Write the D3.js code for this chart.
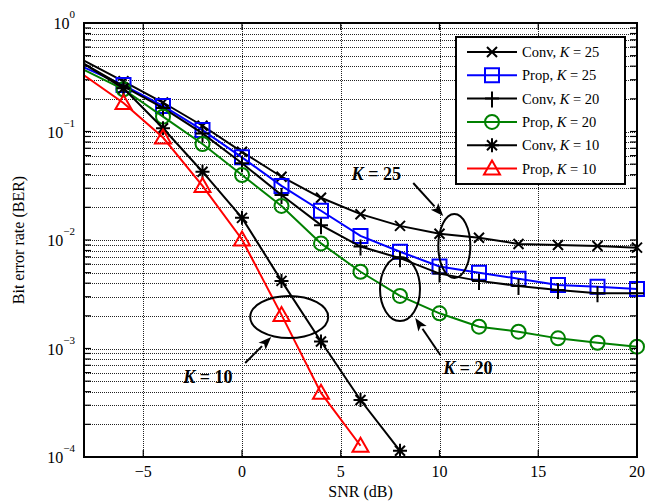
<!DOCTYPE html>
<html>
<head>
<meta charset="utf-8">
<script src="https://cdn.jsdelivr.net/npm/d3@7"></script>
<style>
  body { margin: 0; background: #fff; }
  svg { display: block; font-family: "Liberation Serif", "Times New Roman", serif; }
</style>
</head>
<body>
<svg id="chart"></svg>
<script>
// SNR grid (dB)
const snr = [-8, -6, -4, -2, 0, 2, 4, 6, 8, 10, 12, 14, 16, 18, 20];

// BER values
const convK25 = [0.45, 0.29, 0.185, 0.113, 0.065, 0.0383, 0.0245, 0.0173, 0.0135, 0.0114, 0.0105, 0.0092, 0.009, 0.0088, 0.0085];
const propK25 = [0.39, 0.268, 0.172, 0.103, 0.0578, 0.0315, 0.0186, 0.0109, 0.0078, 0.0057, 0.005, 0.0044, 0.00385, 0.0037, 0.00353];
const convK20 = [0.42, 0.26, 0.165, 0.096, 0.051, 0.026, 0.0137, 0.0087, 0.0068, 0.0049, 0.0042, 0.00377, 0.00346, 0.00323, 0.00323];
const propK20 = [0.37, 0.245, 0.137, 0.0767, 0.0397, 0.0206, 0.0093, 0.0051, 0.00305, 0.00211, 0.00159, 0.00143, 0.00124, 0.00113, 0.00104];
const convK10 = [0.42, 0.25, 0.107, 0.0426, 0.016, 0.0042, 0.00116, 0.000335, 0.000114];
const propK10 = [0.33, 0.183, 0.088, 0.0315, 0.0101, 0.00204, 0.00039, 0.000127];

const seriesNames = ["Conv", "Prop", "Conv", "Prop", "Conv", "Prop"];
const seriesK = [25, 25, 20, 20, 10, 10];
const seriesValues = [convK25, propK25, convK20, propK20, convK10, propK10];
const seriesColors = ["#000", "#0000ff", "#000", "#008000", "#000", "#ff0000"];
const seriesMarkers = ["x", "square", "plus", "circle", "star", "triangle"];

const xTicks = [-5, 0, 5, 10, 15, 20];
const yDecades = [0, -1, -2, -3, -4];

const svgWidth = 647, svgHeight = 502;
const margin = { top: 23, right: 10, bottom: 45, left: 84 };

const svg = d3.select("#chart").attr("width", svgWidth).attr("height", svgHeight);

const xScale = d3.scaleLinear().domain([-8, 20]).range([margin.left, svgWidth - margin.right]);
const yScale = d3.scaleLog().domain([1e-4, 1]).range([svgHeight - margin.bottom, margin.top]);

const x0 = margin.left, x1 = svgWidth - margin.right;
const y0 = margin.top, y1 = svgHeight - margin.bottom;

// grid
const minorVals = [];
for (let e = -4; e < 0; e++) for (let m = 1; m < 10; m++) minorVals.push(m * Math.pow(10, e));
const grid = svg.append("g").attr("stroke", "#222").attr("stroke-dasharray", "1,1").attr("stroke-width", 1);
grid.selectAll("line.gy").data(minorVals.filter(v => v > 1e-4)).enter().append("line")
  .attr("x1", x0).attr("x2", x1)
  .attr("y1", d => Math.round(yScale(d)) + 0.5).attr("y2", d => Math.round(yScale(d)) + 0.5);
grid.selectAll("line.gx").data(xTicks.slice(0, -1)).enter().append("line")
  .attr("y1", y0).attr("y2", y1)
  .attr("x1", d => Math.round(xScale(d)) + 0.5).attr("x2", d => Math.round(xScale(d)) + 0.5);

// ticks (inward, both sides)
const ticks = svg.append("g").attr("stroke", "#000").attr("stroke-width", 1.2);
const tl = 7;
minorVals.concat([1]).forEach(v => {
  const y = yScale(v);
  ticks.append("line").attr("x1", x0).attr("x2", x0 + tl).attr("y1", y).attr("y2", y);
  ticks.append("line").attr("x1", x1).attr("x2", x1 - tl).attr("y1", y).attr("y2", y);
});
xTicks.forEach(v => {
  const x = xScale(v);
  ticks.append("line").attr("x1", x).attr("x2", x).attr("y1", y1).attr("y2", y1 - tl);
  ticks.append("line").attr("x1", x).attr("x2", x).attr("y1", y0).attr("y2", y0 + tl);
});

// tick labels
svg.append("g").selectAll("text").data(xTicks).enter().append("text")
  .attr("x", d => xScale(d)).attr("y", y1 + 20)
  .attr("text-anchor", "middle").attr("font-size", 16)
  .text(d => d < 0 ? "\u2212" + Math.abs(d) : d);

const yLab = svg.append("g").attr("font-size", 16);
yDecades.forEach(e => {
  const t = yLab.append("text").attr("x", 75).attr("y", yScale(Math.pow(10, e)) + 6).attr("text-anchor", "end");
  t.append("tspan").text("10");
  t.append("tspan").attr("dy", -11).attr("font-size", 11).text(e < 0 ? "\u2212" + Math.abs(e) : e);
});

// axis titles
svg.append("text").attr("x", (x0 + x1) / 2).attr("y", 497).attr("text-anchor", "middle")
  .attr("font-size", 16).text("SNR (dB)");
svg.append("text").attr("transform", `translate(24, ${(y0 + y1) / 2}) rotate(-90)`)
  .attr("text-anchor", "middle").attr("font-size", 16).text("Bit error rate (BER)");

// markers
function markerPath(type) {
  switch (type) {
    case "x": return "M-5,-5L5,5M-5,5L5,-5";
    case "square": return "M-7,-7H7V7H-7Z";
    case "plus": return "M-7,0H7M0,-7V9";
    case "circle": return "M7,0A7,7 0 1,1 -7,0A7,7 0 1,1 7,0Z";
    case "star": return "M-7,0H7M0,-7V7M-5,-5L5,5M-5,5L5,-5";
    case "triangle": return "M0,-8L8,6H-8Z";
  }
}

const line = d3.line().x(d => xScale(d[0])).y(d => yScale(d[1]));
const plot = svg.append("g");
seriesValues.forEach((vals, i) => {
  const pts = vals.map((v, j) => [snr[j], v]);
  plot.append("path").datum(pts).attr("d", line)
    .attr("fill", "none").attr("stroke", seriesColors[i]).attr("stroke-width", 2);
  plot.selectAll(null).data(pts.slice(1)).enter().append("path")
    .attr("transform", d => `translate(${xScale(d[0])},${yScale(d[1])})`)
    .attr("d", markerPath(seriesMarkers[i]))
    .attr("fill", "none").attr("stroke", seriesColors[i]).attr("stroke-width", 2);
});

// frame
svg.append("rect").attr("x", x0).attr("y", y0).attr("width", x1 - x0).attr("height", y1 - y0)
  .attr("fill", "none").attr("stroke", "#000").attr("stroke-width", 2);

// legend
const legend = svg.append("g").attr("transform", "translate(456, 37)");
legend.append("rect").attr("width", 169).attr("height", 147)
  .attr("fill", "#fff").attr("stroke", "#000").attr("stroke-width", 2);
seriesNames.forEach((name, i) => {
  const y = 15 + i * 23.3;
  const row = legend.append("g").attr("transform", `translate(0, ${y})`);
  row.append("line").attr("x1", 11).attr("x2", 61).attr("stroke", seriesColors[i]).attr("stroke-width", 2);
  row.append("path").attr("transform", "translate(36, 0)").attr("d", markerPath(seriesMarkers[i]))
    .attr("fill", "none").attr("stroke", seriesColors[i]).attr("stroke-width", 2);
  const t = row.append("text").attr("x", 66).attr("y", 5).attr("font-size", 14.5);
  t.append("tspan").text(name + ", ");
  t.append("tspan").attr("font-style", "italic").text("K");
  t.append("tspan").text(" = " + seriesK[i]);
});

// annotations
const ellipses = [
  { cx: 10.75, cy: 0.0088, rx: 16, ry: 32 },
  { cx: 8, cy: 0.00353, rx: 20, ry: 32 },
  { cx: 2.39, cy: 0.00195, rx: 39, ry: 21 }
];
const arrows = [
  { from: [8.67, 0.0335], to: [10.19, 0.01664] },
  { from: [10.04, 0.00087], to: [8.77, 0.00191] },
  { from: [0.16, 0.000735], to: [1.48, 0.001277] }
];
const labels = [
  { x: 5.55, y: 0.0357, k: 25 },
  { x: 10.19, y: 0.000582, k: 20 },
  { x: -2.97, y: 0.00048, k: 10 }
];

const ann = svg.append("g");
ellipses.forEach(e => {
  ann.append("ellipse").attr("cx", xScale(e.cx)).attr("cy", yScale(e.cy))
    .attr("rx", e.rx).attr("ry", e.ry).attr("fill", "none").attr("stroke", "#000").attr("stroke-width", 2);
});
arrows.forEach(a => {
  const fx = xScale(a.from[0]), fy = yScale(a.from[1]);
  const tx = xScale(a.to[0]), ty = yScale(a.to[1]);
  const ang = Math.atan2(ty - fy, tx - fx);
  const L = 13, W = 5;
  const bx = tx - L * Math.cos(ang), by = ty - L * Math.sin(ang);
  ann.append("line").attr("x1", fx).attr("y1", fy).attr("x2", bx).attr("y2", by)
    .attr("stroke", "#000").attr("stroke-width", 2);
  const p = [
    [tx, ty],
    [bx + W * Math.sin(ang), by - W * Math.cos(ang)],
    [bx + 3 * Math.cos(ang), by + 3 * Math.sin(ang)],
    [bx - W * Math.sin(ang), by + W * Math.cos(ang)]
  ];
  ann.append("path").attr("d", "M" + p.join("L") + "Z").attr("fill", "#000");
});
labels.forEach(l => {
  const t = ann.append("text").attr("x", xScale(l.x)).attr("y", yScale(l.y))
    .attr("font-size", 18).attr("font-weight", "bold");
  t.append("tspan").attr("font-style", "italic").text("K");
  t.append("tspan").text(" = " + l.k);
});
</script>
</body>
</html>
